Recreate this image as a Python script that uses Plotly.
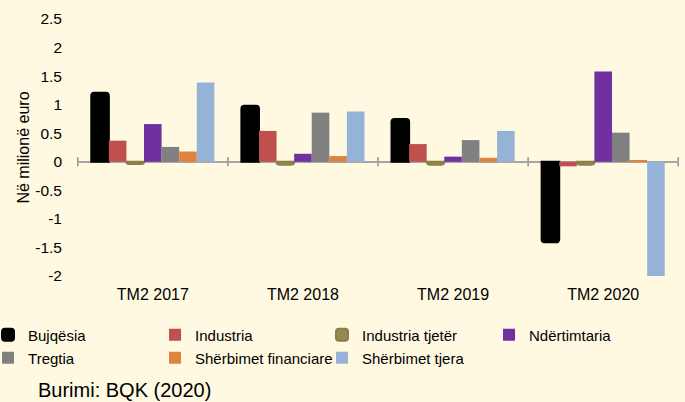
import plotly.graph_objects as go

categories = ["TM2 2017", "TM2 2018", "TM2 2019", "TM2 2020"]
series_names = ["Bujqësia", "Industria", "Industria tjetër", "Ndërtimtaria",
                "Tregtia", "Shërbimet financiare", "Shërbimet tjera"]
bujqesia = [1.21, 0.98, 0.75, -1.41]
industria = [0.37, 0.54, 0.31, -0.08]
industria_tjeter = [-0.04, -0.05, -0.05, -0.05]
ndertimtaria = [0.66, 0.14, 0.09, 1.58]
tregtia = [0.26, 0.86, 0.38, 0.51]
sherbimet_financiare = [0.18, 0.10, 0.07, 0.03]
sherbimet_tjera = [1.39, 0.88, 0.54, -2.01]
series_values = [bujqesia, industria, industria_tjeter, ndertimtaria,
                 tregtia, sherbimet_financiare, sherbimet_tjera]
colors = ["#000000", "#C0504D", "#948A54", "#7030A0", "#808080", "#E0843D", "#95B3D7"]
line_colors = ["#000000", "#C0504D", "#8A7F48", "#7030A0", "#808080", "#E0843D", "#95B3D7"]
line_widths = [2, 0, 2, 0, 0, 0, 0]
ytick_vals = [2.5, 2, 1.5, 1, 0.5, 0, -0.5, -1, -1.5, -2]
ytick_text = ["2.5", "2", "1.5", "1", "0.5", "0", "-0.5", "-1", "-1.5", "-2"]

bg = "#FEF9E0"
font_family = "Liberation Sans, Arial, sans-serif"

fig = go.Figure()
for i, (name, vals) in enumerate(zip(series_names, series_values)):
    fig.add_trace(go.Bar(
        x=categories, y=vals, name=name,
        marker=dict(color=colors[i], line=dict(color=line_colors[i], width=line_widths[i]),
                    cornerradius=3 if line_widths[i] else 0),
        legend="legend" if i < 4 else "legend2",
    ))

# small tick marks on the zero line at category boundaries
for b in [-0.5, 0.5, 1.5, 2.5, 3.5]:
    fig.add_shape(type="line", xref="x", yref="y", x0=b, x1=b, y0=-0.08, y1=0.08,
                  line=dict(color="#8C8C8C", width=1.5), layer="below")

legend_common = dict(orientation="h", xref="paper", yref="paper", xanchor="left",
                     yanchor="middle", entrywidth=122, entrywidthmode="pixels",
                     font=dict(size=15, family=font_family), bgcolor="rgba(0,0,0,0)",
                     traceorder="normal", borderwidth=0)

fig.update_layout(
    width=685, height=402,
    paper_bgcolor=bg, plot_bgcolor=bg,
    margin=dict(l=77, r=6, t=19, b=126, autoexpand=False),
    barmode="group", bargap=0.18, bargroupgap=0,
    font=dict(family=font_family, size=16, color="#000000"),
    legend=dict(x=-0.1478, y=-0.2296, **legend_common),
    legend2=dict(x=-0.1478, y=-0.319, **legend_common),
    showlegend=True,
    xaxis=dict(showline=False, ticks="", showgrid=False, zeroline=False,
               ticklabelstandoff=7, tickfont=dict(size=16)),
    yaxis=dict(range=[-2, 2.5], tickvals=ytick_vals, ticktext=ytick_text,
               showgrid=False, showline=False, ticks="",
               zeroline=True, zerolinecolor="#A6A6A6", zerolinewidth=1.5,
               ticklabelstandoff=14, tickfont=dict(size=15.5),
               title=dict(text="Në milionë euro", font=dict(size=16), standoff=1)),
    annotations=[dict(text="Burimi: BQK (2020)", xref="paper", yref="paper",
                      x=-0.0681, y=-0.443, xanchor="left", yanchor="middle",
                      showarrow=False, font=dict(size=20, family=font_family))],
)

fig.write_html(
    "out.html",
    config={"displayModeBar": False},
    post_script="document.documentElement.style.backgroundColor='%s';"
                "document.body.style.backgroundColor='%s';"
                "document.body.style.margin='0';" % (bg, bg),
)
